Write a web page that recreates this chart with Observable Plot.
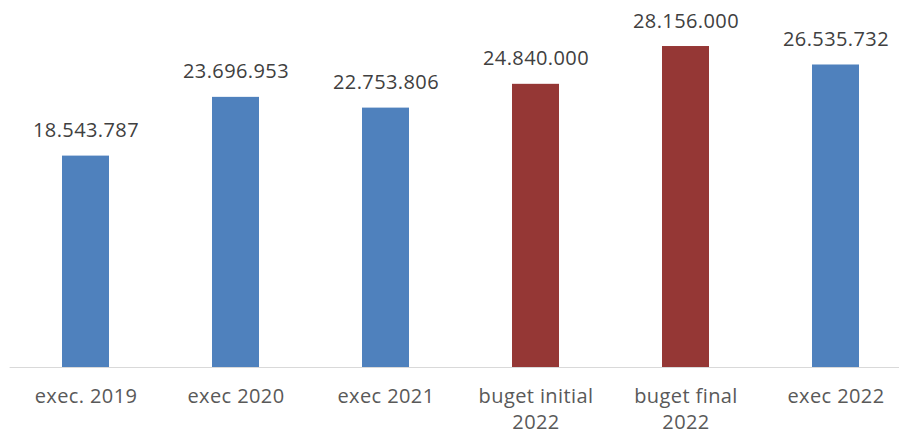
<!DOCTYPE html>
<html>
<head>
<meta charset="utf-8">
<script src="https://cdn.jsdelivr.net/npm/d3@7"></script>
<script src="https://cdn.jsdelivr.net/npm/@observablehq/plot@0.6"></script>
<style>
  html, body { margin: 0; padding: 0; background: #fff; }
  #chart svg { display: block; }
  #chart svg text { letter-spacing: 0.4px; }
</style>
</head>
<body>
<div id="chart"></div>
<script>
const categories = ["exec. 2019", "exec 2020", "exec 2021", "buget initial 2022", "buget final 2022", "exec 2022"];
const tickLabels = ["exec. 2019", "exec 2020", "exec 2021", "buget initial\n2022", "buget final\n2022", "exec 2022"];
const values = [18543787, 23696953, 22753806, 24840000, 28156000, 26535732];
const kinds = ["exec", "exec", "exec", "budget", "budget", "exec"];
const valueLabels = ["18.543.787", "23.696.953", "22.753.806", "24.840.000", "28.156.000", "26.535.732"];

const data = categories.map((c, i) => ({category: c, value: values[i], kind: kinds[i], label: valueLabels[i]}));
const tickMap = new Map(categories.map((c, i) => [c, tickLabels[i]]));

const font = "'Open Sans', sans-serif";

const chart = Plot.plot({
  width: 899,
  height: 434,
  marginTop: 25,
  marginBottom: 67,
  marginLeft: 9.6,
  marginRight: -12,
  style: {fontFamily: font, background: "#fff"},
  x: {domain: categories, paddingInner: 0.687, paddingOuter: 0.3435, align: 0.5},
  y: {domain: [0, 30000000], axis: null},
  color: {domain: ["exec", "budget"], range: ["#4f81bd", "#953735"]},
  marks: [
    Plot.barY(data, {x: "category", y: "value", fill: "kind"}),
    Plot.ruleY([0], {stroke: "#d9d9d9", strokeWidth: 1}),
    Plot.text(data, {x: "category", y: "value", text: "label", lineAnchor: "bottom", dy: -19, fontSize: 20, fill: "#404040"}),
    Plot.axisX({tickSize: 0, tickPadding: 17, fontSize: 20, lineHeight: 1.3, fill: "#595959", tickFormat: d => tickMap.get(d), label: null})
  ]
});
document.getElementById("chart").append(chart);
</script>
</body>
</html>
